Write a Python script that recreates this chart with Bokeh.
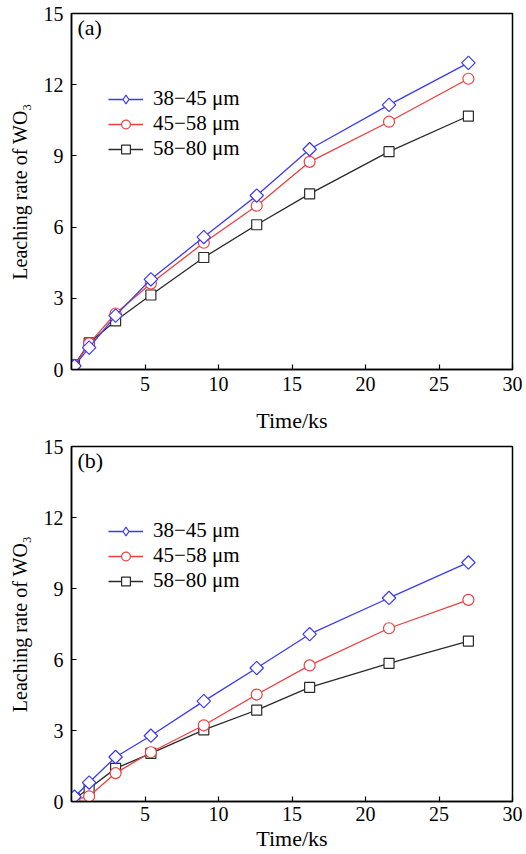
from bokeh.plotting import figure
from bokeh.layouts import column
from bokeh.models import Legend, Label, FixedTicker
from bokeh.embed import file_html
from bokeh.resources import INLINE
import numpy as np

time_ks = [0.2, 1.2, 3.0, 5.4, 9.0, 12.6, 16.2, 21.6, 27.0]
labels = ["38\u221245 \u03bcm", "45\u221258 \u03bcm", "58\u221280 \u03bcm"]

a_38_45 = [0.15, 0.92, 2.27, 3.80, 5.58, 7.33, 9.28, 11.15, 12.92]
a_45_58 = [0.15, 1.10, 2.36, 3.62, 5.34, 6.90, 8.75, 10.44, 12.25]
a_58_80 = [0.20, 1.12, 2.05, 3.14, 4.72, 6.10, 7.40, 9.18, 10.68]

b_38_45 = [0.20, 0.80, 1.88, 2.78, 4.24, 5.64, 7.07, 8.60, 10.10]
b_45_58 = [0.08, 0.22, 1.20, 2.08, 3.22, 4.52, 5.75, 7.32, 8.52]
b_58_80 = [0.12, 0.55, 1.40, 2.03, 3.03, 3.86, 4.82, 5.84, 6.78]

x_ticks = [0, 5, 10, 15, 20, 25, 30]
y_ticks = [0, 3, 6, 9, 12, 15]

colors = ["#3b3bf5", "#ee3f3f", "#2a2a2a"]
FONT = "Liberation Serif"


def make_panel(series, tag, height, top, bottom, tick_standoff, label_standoff):
    p = figure(width=522, height=height, x_range=(0, 30), y_range=(0, 15),
               output_backend="svg", toolbar_location=None,
               min_border_left=71, min_border_right=10,
               min_border_top=top, min_border_bottom=bottom)
    p.grid.visible = False
    p.background_fill_color = "white"
    p.border_fill_color = "white"
    p.outline_line_color = "black"
    p.outline_line_width = 1.5

    for ax in (p.xaxis[0], p.yaxis[0]):
        ax.axis_line_width = 1.5
        ax.axis_line_color = "black"
        ax.major_tick_in = 5
        ax.major_tick_out = 0
        ax.major_tick_line_width = 1.2
        ax.minor_tick_line_color = None
        ax.major_label_text_font = FONT
        ax.major_label_text_font_size = "20px"
        ax.major_label_text_color = "black"
        ax.axis_label_text_font = FONT
        ax.axis_label_text_font_style = "normal"
        ax.axis_label_text_color = "black"

    p.xaxis.ticker = FixedTicker(ticks=x_ticks)
    p.yaxis.ticker = FixedTicker(ticks=y_ticks)
    p.xaxis.major_label_overrides = {0: ""}
    p.xaxis.major_label_standoff = tick_standoff
    p.yaxis.major_label_standoff = 8
    p.xaxis.axis_label = "Time/ks"
    p.xaxis.axis_label_text_font_size = "22px"
    p.xaxis.axis_label_standoff = label_standoff
    p.yaxis.axis_label = "Leaching rate of WO\u2083"
    p.yaxis.axis_label_text_font_size = "20px"
    p.yaxis.axis_label_standoff = 10

    sizes = [9.5, 11, 10]
    rends = {}
    for i in [2, 1, 0]:
        ys = series[i]
        ln = p.line(time_ks, ys, line_color=colors[i], line_width=1.3)
        if i == 0:
            # diamond symbol used by the legend (hidden under the markers)
            dia = p.scatter(time_ks, ys, marker="diamond", size=7,
                            line_color=colors[i], line_width=1.2,
                            fill_color="white")
            p.scatter(time_ks, ys, marker="square", size=sizes[i],
                      angle=np.pi / 4, line_color=colors[i],
                      line_width=1.2, fill_color="white")
            rends[i] = [ln, dia]
        else:
            mk = "circle" if i == 1 else "square"
            sc = p.scatter(time_ks, ys, marker=mk, size=sizes[i],
                           line_color=colors[i], line_width=1.2,
                           fill_color="white")
            rends[i] = [ln, sc]
    items = [(labels[i], rends[i]) for i in range(3)]

    leg = Legend(items=items, location=(37, 208))
    leg.background_fill_alpha = 0
    leg.border_line_color = None
    leg.padding = 0
    leg.margin = 0
    leg.spacing = 0
    leg.glyph_width = 35
    leg.glyph_height = 22
    leg.label_height = 20
    leg.label_standoff = 10
    leg.label_text_font = FONT
    leg.label_text_font_size = "21px"
    leg.label_text_color = "black"
    p.add_layout(leg, "center")

    p.add_layout(Label(x=0.4, y=14.4, text=tag, text_font=FONT,
                       text_font_size="22px", text_baseline="middle",
                       text_color="black"))
    return p


pa = make_panel([a_38_45, a_45_58, a_58_80], "(a)", 436, 13, 67, 7, 14)
pb = make_panel([b_38_45, b_45_58, b_58_80], "(b)", 417, 10, 51, 5, 2)

layout = column(pa, pb, spacing=0)
open("out.html", "w").write(file_html(layout, INLINE))
